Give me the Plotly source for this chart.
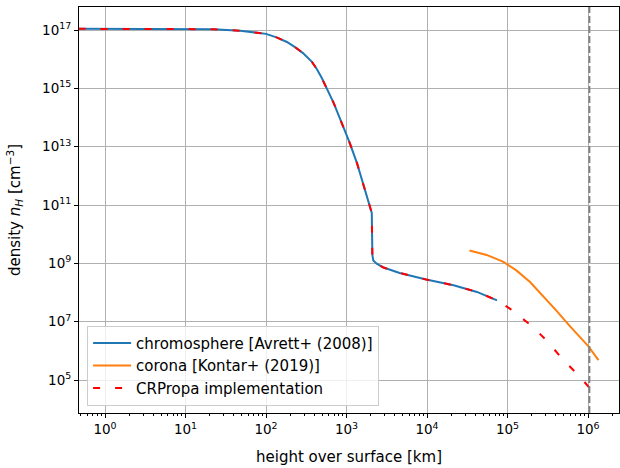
import plotly.graph_objects as go

# chromosphere [Avrett+ (2008)]
chrom_h = [0.47, 1, 10, 13.8, 22.1, 47.9, 63.1, 100, 135, 182, 229, 288, 372, 427, 490, 562,
           692, 813, 1096, 1349, 1778, 2060, 2095, 2150, 2370, 2884, 4571, 9772, 21380, 41690,
           74130]
chrom_n = [1.1e17, 1.1e17, 1.1e17, 1.1e17, 1.07e17, 9.5e16, 8.7e16, 7.4e16, 5.6e16, 3.9e16,
           2.6e16, 1.62e16, 8.1e15, 4.6e15, 2.35e15, 1.1e15, 3.2e14, 1.05e14, 1.35e13,
           2.75e12, 2.0e11, 5.4e10, 2.0e9, 1.25e9, 9.8e8, 7.2e8, 4.7e8, 2.8e8, 1.78e8,
           1.05e8, 5.4e7]

# corona [Kontar+ (2019)]
cor_h = [33700, 55000, 89100, 128800, 190500, 275400, 407400, 602600, 1.0e6, 1.35e6]
cor_n = [2.75e9, 1.95e9, 1.12e9, 5.75e8, 2.29e8, 7.76e7, 2.34e7, 6.76e6, 1.48e6, 4.8e5]

# CRPropa implementation
crp_h = chrom_h + [1.07e5, 2.0e5, 3.09e5, 4.9e5, 7.94e5, 1.23e6]
crp_n = chrom_n + [2.8e7, 7.2e6, 2.2e6, 5.0e5, 1.29e5, 3.2e4]

vline_x = 1.04e6

x_ticks = [1, 10, 100, 1e3, 1e4, 1e5, 1e6]
x_ticktext = ["10<sup>%d</sup>" % i for i in range(7)]
y_ticks = [1e5, 1e7, 1e9, 1e11, 1e13, 1e15, 1e17]
y_ticktext = ["10<sup>%d</sup>" % i for i in (5, 7, 9, 11, 13, 15, 17)]

FONT = "DejaVu Sans, Verdana, sans-serif"
FS = 15
TFS = 13.5

fig = go.Figure()
fig.add_trace(go.Scatter(x=chrom_h, y=chrom_n, mode="lines",
                         line=dict(color="#1f77b4", width=2),
                         name="chromosphere [Avrett+ (2008)]"))
fig.add_trace(go.Scatter(x=cor_h, y=cor_n, mode="lines",
                         line=dict(color="#ff7f0e", width=2),
                         name="corona [Kontar+ (2019)]"))
fig.add_trace(go.Scatter(x=crp_h, y=crp_n, mode="lines",
                         line=dict(color="red", width=2, dash="7px,15px"),
                         name="CRPropa implementation"))

fig.add_shape(type="line", xref="x", yref="paper", x0=vline_x, x1=vline_x, y0=0, y1=1,
              line=dict(color="#808080", width=2, dash="7px,3px"))

axis_common = dict(showline=True, linecolor="black", linewidth=1, mirror=True,
                   ticks="outside", ticklen=4, tickwidth=1, tickcolor="black",
                   showgrid=True, gridcolor="#b0b0b0", gridwidth=1, zeroline=False,
                   automargin=False,
                   tickfont=dict(family=FONT, size=TFS, color="black"))

fig.update_xaxes(type="log", range=[-0.323, 6.385], tickvals=x_ticks, ticktext=x_ticktext,
                 title=dict(text="height over surface [km]",
                            font=dict(family=FONT, size=FS, color="black"), standoff=15),
                 minor=dict(ticks="outside", ticklen=2, tickcolor="black", dtick="D1",
                            showgrid=False),
                 **axis_common)
fig.update_yaxes(type="log", range=[3.87, 17.79], tickvals=y_ticks, ticktext=y_ticktext,
                 title=dict(text="density <i>n<sub>H</sub></i> [cm<sup>−3</sup>]",
                            font=dict(family=FONT, size=FS, color="black"), standoff=17),
                 **axis_common)

fig.update_layout(
    width=620, height=468,
    margin=dict(l=79, r=1, t=7, b=55),
    paper_bgcolor="white", plot_bgcolor="white",
    font=dict(family=FONT, size=FS, color="black"),
    showlegend=True,
    legend=dict(x=0.015, y=0.018, xanchor="left", yanchor="bottom",
                bgcolor="rgba(255,255,255,0.8)", bordercolor="#cccccc", borderwidth=1,
                itemwidth=38,
                font=dict(family=FONT, size=FS, color="black")),
)

fig.write_html("out.html", config={"displayModeBar": False},
               post_script="document.body.style.margin='0';document.body.style.padding='0';")
